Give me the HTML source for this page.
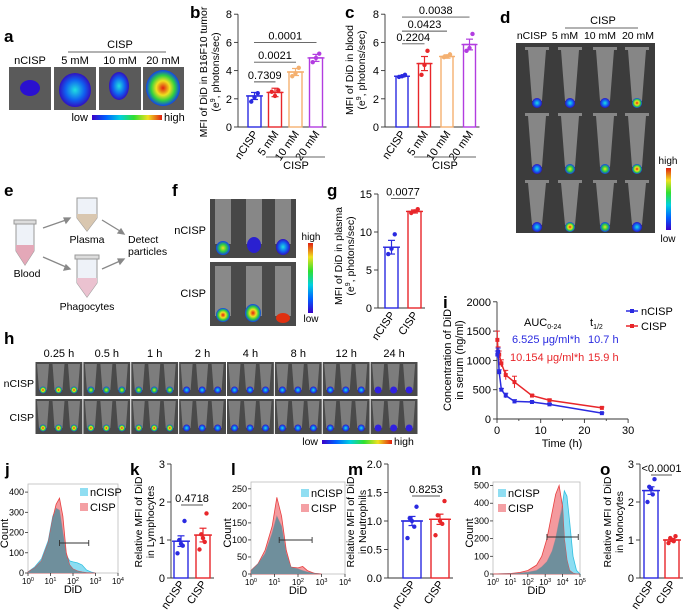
<!DOCTYPE html>
<html><head><meta charset="utf-8">
<style>
html,body{margin:0;padding:0;background:#fff}
svg{display:block;font-family:"Liberation Sans",Arial,sans-serif}
.pl{font-weight:bold;font-size:17px}
</style></head>
<body>
<svg id="fig" width="683" height="611" viewBox="0 0 683 611" xmlns="http://www.w3.org/2000/svg">
<defs>
<linearGradient id="rb" x1="0" x2="1" y1="0" y2="0">
<stop offset="0" stop-color="#3a00c8"/><stop offset="0.2" stop-color="#0060ff"/><stop offset="0.4" stop-color="#00d0e0"/><stop offset="0.6" stop-color="#30e030"/><stop offset="0.8" stop-color="#f0e020"/><stop offset="1" stop-color="#e02010"/></linearGradient>
<linearGradient id="rbv" x1="0" x2="0" y1="1" y2="0">
<stop offset="0" stop-color="#3a00c8"/><stop offset="0.2" stop-color="#0060ff"/><stop offset="0.4" stop-color="#00d0e0"/><stop offset="0.6" stop-color="#30e030"/><stop offset="0.8" stop-color="#f0e020"/><stop offset="1" stop-color="#e02010"/></linearGradient>
<radialGradient id="hot"><stop offset="0" stop-color="#e02010"/><stop offset="0.4" stop-color="#f0e020"/><stop offset="0.7" stop-color="#30d040"/><stop offset="1" stop-color="#1040f0"/></radialGradient>
<radialGradient id="warm"><stop offset="0" stop-color="#f0e020"/><stop offset="0.5" stop-color="#30d040"/><stop offset="1" stop-color="#1040f0"/></radialGradient>
<radialGradient id="cool"><stop offset="0" stop-color="#20e0e0"/><stop offset="0.6" stop-color="#1060f0"/><stop offset="1" stop-color="#3010c0"/></radialGradient>
</defs>

<!-- panel labels -->
<text class="pl" x="4" y="42">a</text>
<text class="pl" x="190" y="18">b</text>
<text class="pl" x="345" y="18">c</text>
<text class="pl" x="500" y="23">d</text>
<text class="pl" x="4" y="196">e</text>
<text class="pl" x="172" y="196">f</text>
<text class="pl" x="327" y="196">g</text>
<text class="pl" x="4" y="344">h</text>
<text class="pl" x="443" y="308">i</text>
<text class="pl" x="5" y="475">j</text>
<text class="pl" x="130" y="475">k</text>
<text class="pl" x="231" y="475">l</text>
<text class="pl" x="348" y="475">m</text>
<text class="pl" x="471" y="475">n</text>
<text class="pl" x="600" y="475">o</text>

<!-- panel a -->
<g font-size="11">
<text x="120" y="48" text-anchor="middle">CISP</text>
<line x1="68" y1="52" x2="166" y2="52" stroke="#333" stroke-width="0.8"/>
<text x="30" y="64" text-anchor="middle">nCISP</text>
<text x="75" y="64" text-anchor="middle">5 mM</text>
<text x="120" y="64" text-anchor="middle">10 mM</text>
<text x="163" y="64" text-anchor="middle">20 mM</text>
<rect x="9" y="67" width="42" height="43" fill="#5a5a5a"/>
<rect x="54" y="67" width="42" height="43" fill="#5a5a5a"/>
<rect x="99" y="67" width="42" height="43" fill="#5a5a5a"/>
<rect x="143" y="67" width="41" height="43" fill="#5a5a5a"/>
<ellipse cx="30" cy="88" rx="10" ry="8" fill="#2a10d0"/>
<ellipse cx="75" cy="90" rx="16" ry="17" fill="url(#cool)"/>
<ellipse cx="119" cy="86" rx="10" ry="14" fill="url(#cool)"/>
<ellipse cx="163" cy="88" rx="17" ry="18" fill="url(#hot)"/>
<text x="88" y="121" text-anchor="end">low</text>
<rect x="92" y="115" width="70" height="5" fill="url(#rb)"/>
<text x="164" y="121">high</text>
</g>

<!-- panel d -->
<g font-size="10.5">
<text x="603" y="24" text-anchor="middle" font-size="11">CISP</text>
<line x1="565" y1="28" x2="638" y2="28" stroke="#333" stroke-width="0.8"/>
<text x="532" y="39" text-anchor="middle">nCISP</text>
<text x="565" y="39" text-anchor="middle">5 mM</text>
<text x="600" y="39" text-anchor="middle">10 mM</text>
<text x="638" y="39" text-anchor="middle">20 mM</text>
<rect x="516" y="43" width="139" height="190" fill="#3c3c3c"/>
<g id="dtubes"></g>
<text x="668" y="164" text-anchor="middle" font-size="10">high</text>
<rect x="666" y="168" width="5" height="62" fill="url(#rbv)"/>
<text x="668" y="242" text-anchor="middle" font-size="10">low</text>
</g>

<!-- panel e -->
<g font-size="10.5">
<path d="M16,223 h18 v28 l-9,14 l-9,-14 z" fill="#eef2f8" stroke="#999"/>
<path d="M16,245 h18 v6 l-9,14 l-9,-14 z" fill="#e4a8b8"/>
<rect x="14" y="220" width="22" height="4" fill="#ddd" stroke="#999"/>
<text x="27" y="277" text-anchor="middle">Blood</text>
<path d="M77,198 h20 v20 l-10,13 l-10,-13 z" fill="#eef2f8" stroke="#999"/>
<path d="M77,214 h20 v4 l-10,13 l-10,-13 z" fill="#d9c7b0"/>
<text x="87" y="243" text-anchor="middle">Plasma</text>
<path d="M77,258 h20 v25 l-10,14 l-10,-14 z" fill="#eef2f8" stroke="#999"/>
<path d="M77,278 h20 v5 l-10,14 l-10,-14 z" fill="#ebc2d0"/>
<rect x="75" y="255" width="24" height="4" fill="#ddd" stroke="#999"/>
<text x="87" y="310" text-anchor="middle">Phagocytes</text>
<g stroke="#888" stroke-width="1.3" fill="#888">
<line x1="43" y1="228" x2="66" y2="220"/><path d="M70,218 l-6,0 l2,5 z"/>
<line x1="43" y1="257" x2="66" y2="267"/><path d="M70,269 l-6,1 l2,-5 z"/>
<line x1="102" y1="220" x2="120" y2="231"/><path d="M124,234 l-6,-1 l3,-4 z"/>
<line x1="102" y1="269" x2="120" y2="261"/><path d="M124,259 l-6,0 l2,5 z"/>
</g>
<text x="128" y="243">Detect</text>
<text x="128" y="255">particles</text>
</g>

<!-- panel f -->
<g font-size="11">
<text x="206" y="234" text-anchor="end">nCISP</text>
<text x="206" y="297" text-anchor="end">CISP</text>
<rect x="210" y="199" width="86" height="59" fill="#474747"/>
<rect x="210" y="262" width="86" height="64" fill="#4a4a4a"/>
<g fill="#bdbdbd" opacity="0.55">
<rect x="215" y="199" width="16" height="45"/><rect x="246" y="199" width="16" height="45"/><rect x="275" y="199" width="16" height="45"/>
<rect x="215" y="266" width="16" height="50"/><rect x="246" y="266" width="16" height="50"/><rect x="275" y="266" width="16" height="50"/>
</g>
<ellipse cx="223" cy="248" rx="7" ry="7" fill="url(#warm)"/>
<ellipse cx="254" cy="245" rx="7" ry="8" fill="#2a20d0"/>
<ellipse cx="283" cy="247" rx="7" ry="8" fill="url(#cool)"/>
<ellipse cx="223" cy="315" rx="7" ry="7" fill="url(#hot)"/>
<ellipse cx="253" cy="313" rx="8" ry="9" fill="url(#hot)"/>
<ellipse cx="283" cy="318" rx="7" ry="5" fill="#e03010"/>
<text x="311" y="240" text-anchor="middle" font-size="10">high</text>
<rect x="308" y="243" width="5" height="70" fill="url(#rbv)"/>
<text x="311" y="322" text-anchor="middle" font-size="10">low</text>
</g>

<!-- panel h -->
<g font-size="10.5">
<g id="htimes"></g>
<text x="34" y="387" text-anchor="end">nCISP</text>
<text x="34" y="421" text-anchor="end">CISP</text>
<rect x="35" y="362" width="383" height="73" fill="#fff"/>
<g id="htubes"></g>
<text x="318" y="445" text-anchor="end">low</text>
<rect x="322" y="440" width="70" height="4" fill="url(#rb)"/>
<text x="394" y="445">high</text>
</g>

<g id="charts"></g>
</svg>

<script>
// ================= DATA =================
// panel b
const bCats = ["nCISP","5 mM","10 mM","20 mM"];
const bMeans = [2.2, 2.45, 3.9, 4.9];
const bSem = [0.25, 0.3, 0.25, 0.25];
const bPoints = [[2.4,2.1,1.8],[2.6,2.2,2.5],[4.2,3.8,3.6],[5.2,4.9,4.6]];
const bTicks = [0,2,4,6,8];
const bPvals = ["0.7309","0.0021","0.0001"];
// panel c
const cCats = ["nCISP","5 mM","10 mM","20 mM"];
const cMeans = [3.6, 4.5, 5.0, 5.85];
const cSem = [0.05, 0.5, 0.12, 0.38];
const cPoints = [[3.7,3.6,3.55],[5.4,4.4,3.7],[5.15,5.0,4.95],[6.6,5.6,5.4]];
const cTicks = [0,2,4,6,8];
const cPvals = ["0.2204","0.0423","0.0038"];
// panel g
const gCats = ["nCISP","CISP"];
const gMeans = [8.0, 12.7];
const gSem = [0.9, 0.2];
const gPoints = [[9.7,7.8,7.1],[13.0,12.7,12.5]];
const gTicks = [0,5,10,15];
const gPvals = ["0.0077"];
// panel i
const iTimes = [0.083,0.25,0.5,1,2,4,8,12,24];
const iBlue = [1100,1150,800,500,400,300,290,250,100];
const iBlueErr = [60,60,40,20,40,30,10,15,5];
const iRed = [1350,1150,1100,950,750,630,400,320,190];
const iRedErr = [150,80,60,60,80,100,20,20,15];
const iYTicks = [0,500,1000,1500,2000];
const iXTicks = [0,10,20,30];
// panel j histogram (x in decades)
const jPos = [0,0.3,0.6,0.9,1.1,1.25,1.4,1.55,1.7,1.85,2.0,2.2,2.4,2.6,2.8,3.0];
const jCyan = [5,30,70,160,280,320,310,200,90,60,55,50,40,15,5,0];
const jRed = [5,25,60,150,270,340,370,280,100,40,20,10,5,2,0,0];
const jYTicks = [0,100,200,300,400];
// panel k
const kMeans = [0.97, 1.13];
const kSem = [0.14, 0.18];
const kPoints = [[1.5,1.0,0.9,0.85,0.65],[1.7,1.15,1.05,0.95,0.75]];
const kTicks = [0,1,2,3];
// panel l histogram
const lPos = [0,0.3,0.6,0.9,1.1,1.3,1.5,1.7,2.0,2.2,2.4,2.7,3.0];
const lCyan = [10,30,60,120,170,140,60,20,15,10,6,2,0];
const lRed = [10,30,70,140,225,170,70,20,18,22,10,2,0];
const lYTicks = [0,50,100,150,200,250];
// panel m
const mMeans = [1.0, 1.03];
const mSem = [0.08, 0.09];
const mPoints = [[1.25,1.05,1.0,0.9,0.7],[1.35,1.1,1.0,0.95,0.75]];
const mTicks = [0,0.5,1.0,1.5,2.0];
// panel n histogram
const nPos = [0,1,1.5,2,2.5,2.8,3.1,3.4,3.6,3.8,4.0,4.1,4.25,4.4,4.6,4.8,5];
const nCyan = [0,2,5,10,20,40,70,130,200,300,400,470,440,300,100,20,0];
const nRed = [0,3,8,20,50,100,200,350,450,500,380,200,80,20,5,0,0];
const nYTicks = [0,100,200,300,400,500];
// panel o
const oMeans = [2.3, 1.0];
const oSem = [0.1, 0.04];
const oPoints = [[2.6,2.4,2.35,2.2,2.0],[1.1,1.05,1.0,0.97,0.92]];
const oTicks = [0,1,2,3];

// ================= HELPERS =================
const NS = "http://www.w3.org/2000/svg";
const root = document.getElementById("charts");
function mk(tag, attrs, parent){
  const e = document.createElementNS(NS, tag);
  for (const k in attrs) e.setAttribute(k, attrs[k]);
  (parent||root).appendChild(e);
  return e;
}
function txt(s, attrs, parent){ const t = mk("text", attrs, parent); t.textContent = s; return t; }
const BLUE="#2a2ae0", RED="#e8262a", ORANGE="#f4b070", PURPLE="#b23de0";

function barChart(name, ax, y0, ppu, x0, step, bw, means, sem, pts, ticks, colors, tickFmt){
  const g = mk("g", {});
  
  
  const yS = v => y0 - v*ppu;
  const xB = i => x0 + i*step;
  const yTop = yS(ticks[ticks.length-1]);
  const axis = mk("line",{x1:ax,y1:yTop,x2:ax,y2:y0,stroke:"#333","stroke-width":0.9},g);
  
  
  ticks.forEach(t=>{
    mk("line",{x1:ax-4,y1:yS(t),x2:ax,y2:yS(t),stroke:"#333","stroke-width":0.9},g);
    const lb = txt(tickFmt?tickFmt(t):String(t),{x:ax-6,y:yS(t)+4,"text-anchor":"end","font-size":11},g);
    
    
  });
  const xr = xB(means.length-1)+bw+4;
  mk("line",{x1:ax,y1:y0,x2:xr,y2:y0,stroke:"#333","stroke-width":0.9},g);
  means.forEach((m,i)=>{
    const c = colors[i];
    const r = mk("rect",{x:xB(i),y:yS(m),width:bw,height:y0-yS(m),fill:"none",stroke:c,"stroke-width":1.4},g);
    
    
    const cx = xB(i)+bw/2;
    mk("line",{x1:cx,y1:yS(m+sem[i]),x2:cx,y2:yS(m-sem[i]),stroke:c,"stroke-width":1.2},g);
    mk("line",{x1:cx-3.5,y1:yS(m+sem[i]),x2:cx+3.5,y2:yS(m+sem[i]),stroke:c,"stroke-width":1.2},g);
    mk("line",{x1:cx-3.5,y1:yS(m-sem[i]),x2:cx+3.5,y2:yS(m-sem[i]),stroke:c,"stroke-width":1.2},g);
    mk("line",{x1:xB(i)-2,y1:yS(m),x2:xB(i)+bw+2,y2:yS(m),stroke:c,"stroke-width":1.4},g);
    const n = pts[i].length;
    pts[i].forEach((p,j)=>{
      const off = (j-(n-1)/2)*(bw*0.5/Math.max(1,n-1))*((j%2)?1:-1);
      const d = mk("circle",{cx:cx+off,cy:yS(p),r:2.2,fill:c},g);
      
      
    });
  });
  g.yS = yS; g.xB = xB;
  return g;
}
function sigLine(g, xa, xb, y, label){
  mk("line",{x1:xa,y1:y,x2:xb,y2:y,stroke:"#555","stroke-width":0.9},g);
  const t = txt(label,{x:(xa+xb)/2,y:y-3,"text-anchor":"middle","font-size":11},g);
  
  
}
function rotLabels(g, cats, xB, bw, y){
  cats.forEach((c,i)=>{
    const x = xB(i)+bw/2+4;
    const t = txt(c,{x:x,y:y,"text-anchor":"end","font-size":11,transform:`rotate(-55 ${x} ${y})`},g);
    
    
  });
}
function yTitle(lines, x, y, sz){
  lines.forEach((s,k)=>{
    const t = txt("",{x:0,y:0,"text-anchor":"middle","font-size":sz||11,transform:`translate(${x+k*12},${y}) rotate(-90)`});
    t.innerHTML = s;
    
    
  });
}

// ===== b =====
const gb = barChart("chart-b", 238, 127, 14.1, 248, 20.5, 13, bMeans, bSem, bPoints, bTicks, [BLUE,RED,ORANGE,PURPLE]);
sigLine(gb, gb.xB(0)+6, gb.xB(1)+7, gb.yS(3.2), bPvals[0]);
sigLine(gb, gb.xB(0)+6, gb.xB(2)+7, gb.yS(4.6), bPvals[1]);
sigLine(gb, gb.xB(0)+6, gb.xB(3)+7, gb.yS(6.0), bPvals[2]);
rotLabels(gb, bCats, gb.xB, 13, 134);
mk("line",{x1:266,y1:157,x2:325,y2:157,stroke:"#333","stroke-width":0.8},gb);
txt("CISP",{x:296,y:169,"text-anchor":"middle","font-size":11},gb);
yTitle(["MFI of DiD in B16F10 tumor","(e<tspan font-size='7' dy='-4'>9</tspan><tspan dy='4'>, photons/sec)</tspan>"], 207, 72, 10.5);

// ===== c =====
const gc = barChart("chart-c", 385, 127, 14.1, 396, 22.5, 12, cMeans, cSem, cPoints, cTicks, [BLUE,RED,ORANGE,PURPLE]);
sigLine(gc, gc.xB(0)+6, gc.xB(1)+6, gc.yS(5.9), cPvals[0]);
sigLine(gc, gc.xB(0)+6, gc.xB(2)+6, gc.yS(6.8), cPvals[1]);
sigLine(gc, gc.xB(0)+6, gc.xB(3)+6, gc.yS(7.8), cPvals[2]);
rotLabels(gc, cCats, gc.xB, 12, 134);
mk("line",{x1:414,y1:157,x2:476,y2:157,stroke:"#333","stroke-width":0.8},gc);
txt("CISP",{x:445,y:169,"text-anchor":"middle","font-size":11},gc);
yTitle(["MFI of DiD in blood","(e<tspan font-size='7' dy='-4'>9</tspan><tspan dy='4'>, photons/sec)</tspan>"], 353, 70, 10.5);

// ===== g =====
const gg = barChart("chart-g", 378, 308, 7.6, 385, 23, 13, gMeans, gSem, gPoints, gTicks, [BLUE,RED]);
sigLine(gg, gg.xB(0)+6, gg.xB(1)+7, gg.yS(14.4), gPvals[0]);
rotLabels(gg, gCats, gg.xB, 13, 315);
yTitle(["MFI of DiD in plasma","(e<tspan font-size='7' dy='-4'>9</tspan><tspan dy='4'>, photons/sec)</tspan>"], 342, 256, 10.5);

// ===== k, m, o =====
const gk = barChart("chart-k", 171, 578, 38, 174, 22, 14, kMeans, kSem, kPoints, kTicks, [BLUE,RED]);
sigLine(gk, gk.xB(0)+7, gk.xB(1)+7, 505, "0.4718");
rotLabels(gk, gCats, gk.xB, 14, 584);
yTitle(["Relative MFI of DiD","in Lymphocytes"], 142, 522, 10.5);

const gm = barChart("chart-m", 388, 578, 57, 403, 28, 18, mMeans, mSem, mPoints, mTicks, [BLUE,RED], t=>t.toFixed(1));
sigLine(gm, gm.xB(0)+9, gm.xB(1)+9, 496, "0.8253");
rotLabels(gm, gCats, gm.xB, 18, 584);
yTitle(["Relative MFI of DiD","in Neutrophils"], 354, 522, 10.5);

const go = barChart("chart-o", 640, 578, 38, 644, 21, 14, oMeans, oSem, oPoints, oTicks, [BLUE,RED]);
sigLine(go, go.xB(0)+7, go.xB(1)+7, 475, "<0.0001");
rotLabels(go, gCats, go.xB, 14, 584);
yTitle(["Relative MFI of DiD","in Monocytes"], 611, 522, 10.5);

// ===== histograms =====
function hist(name, bx, by, bw, bh, decades, ymax, pos, cy, rd, yTicks, brk, legX, legY){
  const g = mk("g",{});
  
  
  const xS = v => bx + v/decades*bw;
  const yS = v => by + bh - v/ymax*bh;
  const frame = mk("rect",{x:bx,y:by,width:bw,height:bh,fill:"none",stroke:"#bbb","stroke-width":0.8},g);
  
  
  function area(arr, fill, stroke, nm){
    let d = `M${xS(pos[0])},${yS(0)}`;
    pos.forEach((p,i)=>{ d += ` L${xS(p)},${yS(arr[i])}`; });
    d += ` L${xS(pos[pos.length-1])},${yS(0)} Z`;
    const p = mk("path",{d:d,fill:fill,stroke:stroke,"stroke-width":0.8},g);
    
    
  }
  area(cy, "rgba(120,215,240,0.85)", "#30c0e0", name+"-ncisp-area");
  area(rd, "rgba(240,120,125,0.75)", "#e84040", name+"-cisp-area");
  let d = `M${xS(pos[0])},${yS(0)}`;
  pos.forEach((p,i)=>{ d += ` L${xS(p)},${yS(Math.min(cy[i],rd[i]))}`; });
  d += ` L${xS(pos[pos.length-1])},${yS(0)} Z`;
  const ov = mk("path",{d:d,fill:"#6f8f9c"},g);
  
  
  yTicks.forEach(t=>{
    mk("line",{x1:bx-3,y1:yS(t),x2:bx,y2:yS(t),stroke:"#333","stroke-width":0.8},g);
    txt(String(t),{x:bx-4,y:yS(t)+3,"text-anchor":"end","font-size":9},g);
  });
  for(let k=0;k<=decades;k++){
    mk("line",{x1:xS(k),y1:by+bh,x2:xS(k),y2:by+bh+3,stroke:"#333","stroke-width":0.8},g);
    const t = txt("",{x:xS(k),y:by+bh+11,"text-anchor":"middle","font-size":8},g);
    t.innerHTML = `10<tspan font-size="5.5" dy="-3">${k}</tspan>`;
  }
  txt("DiD",{x:bx+bw/2,y:by+bh+20,"text-anchor":"middle","font-size":11},g);
  const ct = txt("Count",{x:0,y:0,"text-anchor":"middle","font-size":11,transform:`translate(${bx-20},${by+bh/2+5}) rotate(-90)`},g);
  
  
  mk("line",{x1:xS(brk[0]),y1:brk[2],x2:xS(brk[1]),y2:brk[2],stroke:"#333","stroke-width":0.9},g);
  mk("line",{x1:xS(brk[0]),y1:brk[2]-3,x2:xS(brk[0]),y2:brk[2]+3,stroke:"#333","stroke-width":0.9},g);
  mk("line",{x1:xS(brk[1]),y1:brk[2]-3,x2:xS(brk[1]),y2:brk[2]+3,stroke:"#333","stroke-width":0.9},g);
  const l1 = mk("rect",{x:legX,y:legY-8,width:8,height:8,fill:"#90def2"},g);
  
  
  txt("nCISP",{x:legX+10,y:legY,"font-size":11},g);
  const l2 = mk("rect",{x:legX,y:legY+7,width:8,height:8,fill:"#f4a0a4"},g);
  
  
  txt("CISP",{x:legX+10,y:legY+15,"font-size":11},g);
}
hist("histogram-j", 28, 484, 90, 89, 4, 440, jPos, jCyan, jRed, jYTicks, [1.4,2.7,543], 80, 496);
hist("histogram-l", 251, 482, 94, 92, 4, 270, lPos, lCyan, lRed, lYTicks, [1.2,2.6,540], 301, 497);
hist("histogram-n", 493, 482, 87, 92, 5, 520, nPos, nCyan, nRed, nYTicks, [3.1,4.9,537], 498, 497);

// ===== i line chart =====
(function(){
  const g = mk("g",{});
  
  
  const xS = t => 497 + t*4.37;
  const yS = v => 419 - v*0.0586;
  mk("line",{x1:497,y1:yS(2000),x2:497,y2:419,stroke:"#333","stroke-width":0.9},g);
  mk("line",{x1:497,y1:419,x2:xS(30),y2:419,stroke:"#333","stroke-width":0.9},g);
  iYTicks.forEach(t=>{
    mk("line",{x1:493,y1:yS(t),x2:497,y2:yS(t),stroke:"#333","stroke-width":0.9},g);
    txt(String(t),{x:491,y:yS(t)+4,"text-anchor":"end","font-size":11},g);
  });
  iXTicks.forEach(t=>{
    mk("line",{x1:xS(t),y1:419,x2:xS(t),y2:423,stroke:"#333","stroke-width":0.9},g);
    txt(String(t),{x:xS(t),y:434,"text-anchor":"middle","font-size":11},g);
  });
  [5,15,25].forEach(t=>mk("line",{x1:xS(t),y1:419,x2:xS(t),y2:421,stroke:"#333","stroke-width":0.8},g));
  txt("Time (h)",{x:562,y:447,"text-anchor":"middle","font-size":11},g);
  yTitle(["Concentration of DiD","in serum (ng/ml)"], 451, 360, 11);
  function series(vals, errs, col, nm){
    const d = vals.map((v,i)=>(i?"L":"M")+xS(iTimes[i])+","+yS(v)).join(" ");
    const p = mk("path",{d:d,fill:"none",stroke:col,"stroke-width":1.5},g);
    
    
    vals.forEach((v,i)=>{
      const x = xS(iTimes[i]);
      mk("line",{x1:x,y1:yS(v+errs[i]),x2:x,y2:yS(v-errs[i]),stroke:col,"stroke-width":1},g);
      mk("line",{x1:x-2.5,y1:yS(v+errs[i]),x2:x+2.5,y2:yS(v+errs[i]),stroke:col,"stroke-width":1},g);
      const m = mk("rect",{x:x-2,y:yS(v)-2,width:4,height:4,fill:col},g);
      
      
    });
  }
  series(iRed, iRedErr, RED, "cisp");
  series(iBlue, iBlueErr, BLUE, "ncisp");
  const lg1 = mk("line",{x1:626,y1:311,x2:638,y2:311,stroke:BLUE,"stroke-width":1.5},g);
  
  
  mk("rect",{x:630,y:309,width:4,height:4,fill:BLUE},g);
  txt("nCISP",{x:641,y:315,"font-size":11},g);
  const lg2 = mk("line",{x1:626,y1:326,x2:638,y2:326,stroke:RED,"stroke-width":1.5},g);
  
  
  mk("rect",{x:630,y:324,width:4,height:4,fill:RED},g);
  txt("CISP",{x:641,y:330,"font-size":11},g);
  const a = txt("",{x:524,y:326,"font-size":11},g); a.innerHTML = "AUC<tspan font-size='7' dy='3'>0-24</tspan>";
  const t12 = txt("",{x:590,y:326,"font-size":11},g); t12.innerHTML = "t<tspan font-size='7' dy='3'>1/2</tspan>";
  txt("6.525 μg/ml*h",{x:512,y:343,"font-size":11,fill:BLUE},g);
  txt("10.7 h",{x:588,y:343,"font-size":11,fill:BLUE},g);
  txt("10.154 μg/ml*h",{x:510,y:361,"font-size":11,fill:RED},g);
  txt("15.9 h",{x:588,y:361,"font-size":11,fill:RED},g);
})();

// ===== decorative tube images (d, h) =====
(function(){
  const dg = document.getElementById("dtubes");
  const cols = [537,570,605,637];
  const rows = [[47,106],[113,172],[180,230]];
  const fills = [["url(#cool)","url(#cool)","url(#cool)","url(#hot)"],["url(#cool)","url(#warm)","url(#warm)","url(#hot)"],["url(#cool)","url(#hot)","url(#warm)","url(#cool)"]];
  rows.forEach((r,ri)=>cols.forEach((c,ci)=>{
    mk("path",{d:`M${c-12},${r[0]} h24 v3 h-3 l-4,${r[1]-r[0]-8} h-10 l-4,${-(r[1]-r[0]-8)} h-3 z`,fill:"#b8b8b8",opacity:0.6},dg);
    mk("ellipse",{cx:c,cy:r[1]-3,rx:5,ry:5,fill:fills[ri][ci]},dg);
  }));
  const hg = document.getElementById("htubes");
  const ht = document.getElementById("htimes");
  const times = ["0.25 h","0.5 h","1 h","2 h","4 h","8 h","12 h","24 h"];
  const segW = 383/8;
  const hf = ["url(#hot)","url(#warm)","url(#warm)","url(#cool)","url(#cool)","url(#cool)","url(#cool)","#3020e0"];
  times.forEach((s,i)=>{
    const x0 = 35 + i*segW;
    txt(s,{x:x0+segW/2,y:357,"text-anchor":"middle","font-size":11},ht);
    [[362,396],[399,434]].forEach((r,ri)=>{
      mk("rect",{x:x0+0.5,y:r[0],width:segW-1,height:r[1]-r[0],fill:"#4a4a4a"},hg);
      for(let k=0;k<3;k++){
        const cx = x0 + 8 + k*15.5;
        mk("path",{d:`M${cx-6},${r[0]+2} h12 l-2,${r[1]-r[0]-8} h-8 z`,fill:"#bdbdbd",opacity:0.45},hg);
        mk("ellipse",{cx:cx,cy:r[1]-6,rx:3.5,ry:3.5,fill:ri===1&&i<3?"url(#hot)":hf[i]},hg);
      }
    });
  });
})();
</script>
</body></html>
